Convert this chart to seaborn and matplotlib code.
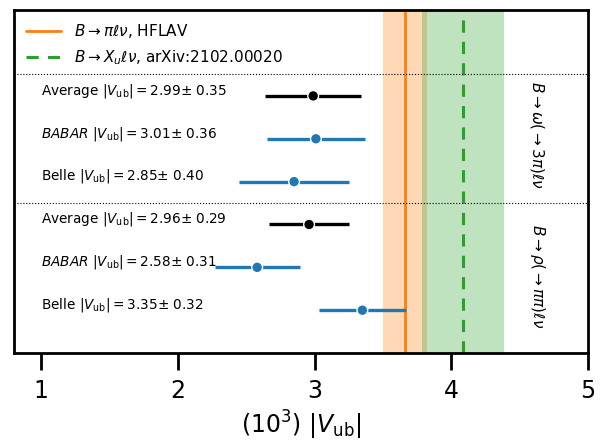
import numpy as np
import pandas as pd
import seaborn as sns
import matplotlib.pyplot as plt

# |Vub| values (x 10^3)
experiments = ["Average", "BABAR", "Belle", "Average", "BABAR", "Belle"]
vub_central = [2.99, 3.01, 2.85, 2.96, 2.58, 3.35]
vub_error = [0.35, 0.36, 0.40, 0.29, 0.31, 0.32]
row_pos = [6, 5, 4, 3, 2, 1]
channels = [r"$B\to\omega(\to 3\pi)\ell\nu$", r"$B\to\rho(\to \pi\pi)\ell\nu$"]

hflav_val, hflav_err = 3.66, 0.16
incl_val, incl_err = 4.09, 0.30

sns.set_theme(style="ticks")
plt.rcParams["font.family"] = ["DejaVu Sans"]
plt.rcParams["text.color"] = "black"
plt.rcParams["xtick.color"] = "black"
plt.rcParams["axes.labelcolor"] = "black"

df = pd.DataFrame({"exp": experiments, "vub": vub_central, "err": vub_error, "y": row_pos})
df["kind"] = np.where(df["exp"] == "Average", "avg", "meas")

fig, ax = plt.subplots(figsize=(6.06, 4.43), dpi=100)
fig.subplots_adjust(left=0.023, right=0.970, top=0.977, bottom=0.203)

# bands
ax.axvspan(hflav_val - hflav_err, hflav_val + hflav_err, color="tab:orange", alpha=0.3, lw=0)
ax.axvspan(incl_val - incl_err, incl_val + incl_err, color="tab:green", alpha=0.3, lw=0)
ax.axvline(hflav_val, color="tab:orange", lw=2, label=r"$B\to\pi\ell\nu$, HFLAV")
ax.axvline(incl_val, color="tab:green", lw=2.2, ls=(0, (4, 3)), label=r"$B\to X_u\ell\nu$, arXiv:2102.00020")

ax.axhline(6.5, color="black", lw=0.8, ls=":")
ax.axhline(3.5, color="black", lw=0.8, ls=":")

pal = {"avg": "black", "meas": "tab:blue"}
for _, r in df.iterrows():
    ax.errorbar(r["vub"], r["y"], xerr=r["err"], fmt="none", ecolor=pal[r["kind"]], elinewidth=2.4, capsize=0)
sns.scatterplot(data=df, x="vub", y="y", hue="kind", palette=pal, s=60, edgecolor="white",
                linewidth=1, legend=False, zorder=5, ax=ax)

for _, r in df.iterrows():
    name = r"$\mathit{BABAR}$" if r["exp"] == "BABAR" else r["exp"]
    txt = name + r" $|V_{\rm ub}| = %.2f$$\pm$ %.2f" % (r["vub"], r["err"])
    ax.text(1.0, r["y"] + 0.12, txt, fontsize=9.8, va="center", ha="left")

ax.text(4.63, 5.1, channels[0], rotation=-90, fontsize=11, ha="center", va="center")
ax.text(4.63, 1.8, channels[1], rotation=-90, fontsize=11, ha="center", va="center")

ax.set_xlim(0.8, 5.0)
ax.set_ylim(0, 8)
ax.set_yticks([])
ax.set_xticks([1, 2, 3, 4, 5])
ax.set_ylabel("")
ax.set_xlabel(r"$(10^3)\ |V_{\rm ub}|$", fontsize=17, labelpad=4)
ax.tick_params(axis="x", labelsize=17, length=12, width=2, pad=7)
for s in ax.spines.values():
    s.set_linewidth(2)
    s.set_color("black")

ax.legend(loc="upper left", frameon=False, fontsize=11, handlelength=2.3, borderaxespad=0.4)

fig.savefig("out.png", dpi=100)
